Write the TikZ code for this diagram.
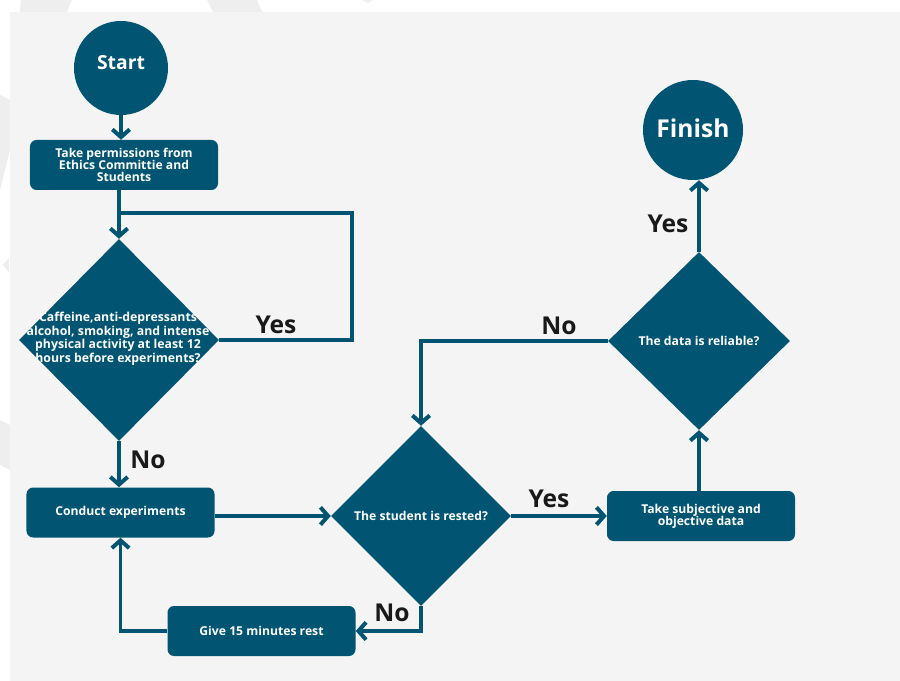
\documentclass[tikz,border=0pt]{standalone}
\usepackage{fontspec}
\setmainfont{Open Sans}
\usetikzlibrary{arrows.meta,shapes.geometric}
\definecolor{flowblue}{RGB}{1,85,114}
\definecolor{panelgray}{RGB}{244,244,244}
\definecolor{shadegray}{RGB}{238,238,238}

\begin{document}
\begin{tikzpicture}[x=0.3mm, y=-0.3mm,
  terminal/.style={circle, fill=flowblue, text=white, inner sep=0pt},
  procbox/.style={rectangle, rounded corners=2mm, fill=flowblue, text=white, align=center,
    inner sep=0pt, minimum width=56.4mm, minimum height=15mm,
    font=\bfseries\fontsize{10.4}{10.4}\selectfont},
  decision/.style={diamond, aspect=1, fill=flowblue, text=white, inner sep=0pt,
    font=\bfseries\fontsize{10.4}{10.4}\selectfont},
  dtext/.style={text=white, align=center, inner sep=0pt, font=\bfseries\fontsize{10.5}{10.3}\selectfont},
  answer/.style={text=black!90, inner sep=0pt, font=\bfseries\fontsize{21}{24}\selectfont},
  flow/.style={draw=flowblue, line width=3.4pt, -{Straight Barb[length=2.3mm, width=5.2mm]}},
  plain/.style={draw=flowblue, line width=3.4pt}]

  % page and panel
  \useasboundingbox (0,0) rectangle (900,681);
  \fill[white] (0,0) rectangle (900,681);
  \fill[shadegray] (21,0) -- (72,0) -- (67,12) -- (20,12) -- cycle;
  \fill[shadegray] (207,0) -- (257,0) -- (262,12) -- (213,12) -- cycle;
  \fill[shadegray] (362,0) -- (373,0) -- (368,3) -- cycle;
  \fill[shadegray] (0,95) -- (10,100) -- (10,150) -- (0,190) -- cycle;
  \fill[shadegray] (3,265) -- (9,258) -- (9,272) -- cycle;
  \fill[shadegray] (0,420) -- (10,425) -- (10,470) -- (0,465) -- cycle;
  \fill[panelgray] (10,12) rectangle (900,681);

  % nodes
  \node[terminal, minimum size=28.2mm, text depth=10pt, font=\bfseries\fontsize{16.5}{20}\selectfont] (start) at (121,68) {Start};
  \node[procbox] (perm) at (124,165) {Take permissions from\\Ethics Committie and\\Students};
  \node[decision, minimum width=60mm, minimum height=60.6mm] (q1) at (119,340) {};
  \node[dtext] (q1txt) at (118,339) {Caffeine,anti-depressants\\alcohol, smoking, and intense\\physical activity at least 12\\hours before experiments?};
  \node[procbox] (conduct) at (120.5,512.5) {Conduct experiments};
  \node[decision, minimum width=54mm, minimum height=54mm] (q2) at (421,516) {The student is rested?};
  \node[procbox] (rest) at (261.5,631) {Give 15 minutes rest};
  \node[procbox] (subj) at (701,516) {Take subjective and\\objective data};
  \node[decision, minimum width=54.6mm, minimum height=53.4mm] (q3) at (699,341) {The data is reliable?};
  \node[terminal, minimum size=30mm, text depth=3pt, font=\bfseries\fontsize{21}{24}\selectfont] (finish) at (693,130) {Finish};

  \coordinate (yesturn) at (352,213);
  \coordinate (loopend) at (119,213);

  % connectors
  \draw[flow] (start) -- (start |- perm.north);
  \draw[flow] (q1.north |- perm.south) -- (q1.north);
  \draw[plain] (q1.east) -| (yesturn) -- (loopend);
  \draw[flow] (q1.south) -- (q1.south |- conduct.north);
  \draw[flow] (conduct.east |- q2.west) -- (q2.west);
  \draw[flow] (q2.east) -- (subj.west);
  \draw[flow] (q2.south) |- (rest.east);
  \draw[flow] (rest.west) -| (conduct.south);
  \draw[flow] (q3.south |- subj.north) -- (q3.south);
  \draw[flow] (q3.west) -| (q2.north);
  \draw[flow] (q3.north) -- (q3.north |- finish.south);

  % answers
  \node[answer] (yes1) at (276,325) {Yes};
  \node[answer] (no1) at (148,460) {No};
  \node[answer] (yes2) at (549,499) {Yes};
  \node[answer] (no2) at (392,613) {No};
  \node[answer] (no3) at (559,326) {No};
  \node[answer] (yes3) at (668,224) {Yes};
\end{tikzpicture}
\end{document}
